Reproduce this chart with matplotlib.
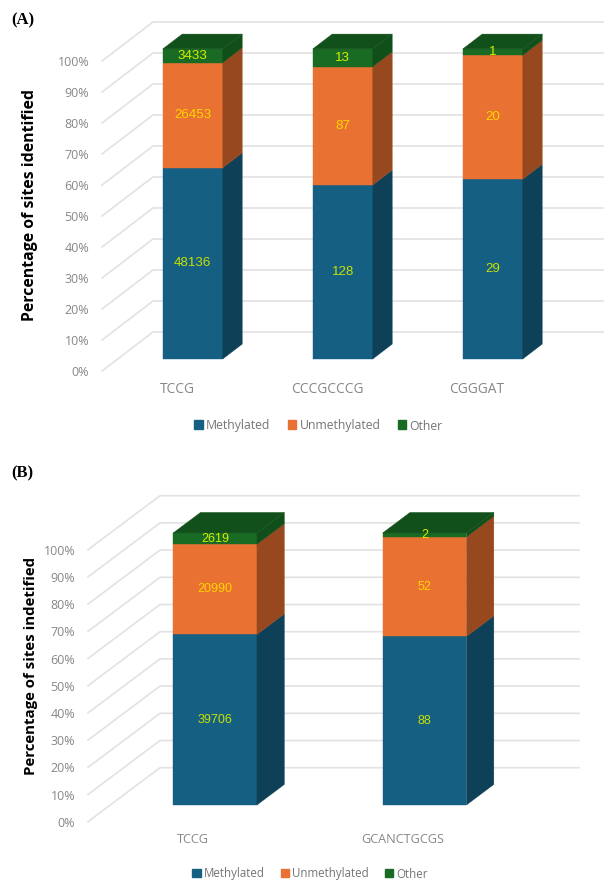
import matplotlib
matplotlib.use("Agg")
import matplotlib.pyplot as plt
from matplotlib.patches import Patch

W, H = 606, 881

series = ["Methylated", "Unmethylated", "Other"]

motifs_a = ["TCCG", "CCCGCCCG", "CGGGAT"]
methylated_a = [48136, 128, 29]
unmethylated_a = [26453, 87, 20]
other_a = [3433, 13, 1]

motifs_b = ["TCCG", "GCANCTGCGS"]
methylated_b = [39706, 88]
unmethylated_b = [20990, 52]
other_b = [2619, 2]

percent_ticks = list(range(0, 101, 10))

FRONT = ["#156082", "#E97132", "#196B24"]
SIDE = ["#0E4057", "#97481E", "#114F1A"]
TOP = "#12501B"
GRID = "#E2E2E2"
TICK = "#878787"
LABEL_COL = ["#C8E000", "#FFD400", "#D8EC00"]


def stacked_panel(rect, cats, columns, ylabel, depth_px, sizes, ylabel_xy, ylabel_size,
                  legend_center, legend_gap):
    left, right, top, bottom = rect
    tick_size, cat_size, value_size, legend_size = sizes
    ax = plt.gcf().add_axes([left / W, 1 - bottom / H, (right - left) / W, (bottom - top) / H])
    n = len(cats)
    ax.set_xlim(-0.5, n - 0.5)
    ax.set_ylim(0, 100)
    for s in ax.spines.values():
        s.set_visible(False)

    # oblique projection: depth 0 is the front edge of the floor, 1 the back wall
    dx = depth_px[0] / ((right - left) / n)
    dy = depth_px[1] / ((bottom - top) / 100)

    def proj(x, y, d):
        return x + d * dx, y + d * dy

    for p in percent_ticks:
        a = proj(-0.5, p, 0)
        b = proj(-0.5, p, 1)
        c = proj(n - 0.5, p, 1)
        ax.plot([a[0], b[0], c[0]], [a[1], b[1], c[1]], color=GRID, lw=1.2,
                clip_on=False, zorder=1, solid_joinstyle="miter")

    half = 0.2
    d0, d1 = 0.31, 0.69

    def face(points, color, z):
        xs, ys = zip(*points)
        ax.fill(xs, ys, color=color, lw=0.3, clip_on=False, zorder=z)

    for i in range(n):
        total = sum(col[i] for col in columns)
        base = 0.0
        for k, col in enumerate(columns):
            share = 100 * col[i] / total
            y0, y1 = base, base + share
            face([proj(i - half, y0, d0), proj(i + half, y0, d0),
                  proj(i + half, y1, d0), proj(i - half, y1, d0)], FRONT[k], 3)
            face([proj(i + half, y0, d0), proj(i + half, y0, d1),
                  proj(i + half, y1, d1), proj(i + half, y1, d0)], SIDE[k], 3)
            lx, ly = proj(i, (y0 + y1) / 2, d0)
            ax.text(lx, ly, str(col[i]), ha="center", va="center", color=LABEL_COL[k],
                    fontsize=value_size, family="Liberation Sans", zorder=5)
            base = y1
        face([proj(i - half, 100, d0), proj(i + half, 100, d0),
              proj(i + half, 100, d1), proj(i - half, 100, d1)], TOP, 4)

    ax.set_yticks(percent_ticks, [f"{p}%" for p in percent_ticks])
    ax.set_xticks(range(n), cats)
    ax.tick_params(axis="y", length=0, pad=9.2, labelsize=tick_size, labelcolor=TICK)
    ax.tick_params(axis="x", length=0, pad=8.0, labelsize=cat_size, labelcolor=TICK)
    for t in ax.get_xticklabels() + ax.get_yticklabels():
        t.set_family("Open Sans")

    ax.text((ylabel_xy[0] - left) / (right - left), (bottom - ylabel_xy[1]) / (bottom - top),
            ylabel, transform=ax.transAxes, rotation=90, ha="center", va="center",
            fontsize=ylabel_size, fontweight="bold", family="Open Sans", color="black",
            clip_on=False)

    handles = [Patch(color=c, label=s) for c, s in zip(FRONT, series)]
    leg = plt.gcf().legend(handles=handles, ncol=3, frameon=False, loc="center",
                           bbox_to_anchor=(legend_center[0] / W, 1 - legend_center[1] / H),
                           prop={"family": "Open Sans", "size": legend_size},
                           handlelength=0.72, handleheight=0.72, handletextpad=0.25,
                           columnspacing=legend_gap, labelcolor="#757575",
                           borderpad=0, borderaxespad=0)
    # "Other" has no descender, so bring its baseline level with the other entries
    leg.get_texts()[2].set_y(-1)
    return ax


fig = plt.figure(figsize=(W / 100, H / 100), dpi=100, facecolor="white")

stacked_panel((102, 552, 61, 371), motifs_a, [methylated_a, unmethylated_a, other_a],
              "Percentage of sites identified", (51, 39), (9, 9.9, 9.6, 8.8), (30, 204.5), 11.45,
              (318.5, 425), 1.4)
stacked_panel((88, 507, 549.7, 821.7), motifs_b, [methylated_b, unmethylated_b, other_b],
              "Percentage of sites indetified", (72, 54), (9, 9.1, 9, 8.3), (31, 666), 10.8,
              (310, 873.5), 1.4)

fig.text(11 / W, 1 - 20 / H, "(A)", family="Liberation Serif", fontweight="bold",
         fontsize=12, va="center", ha="left")
fig.text(11 / W, 1 - 473 / H, "(B)", family="Liberation Serif", fontweight="bold",
         fontsize=12, va="center", ha="left")

fig.savefig("out.png", dpi=100)
